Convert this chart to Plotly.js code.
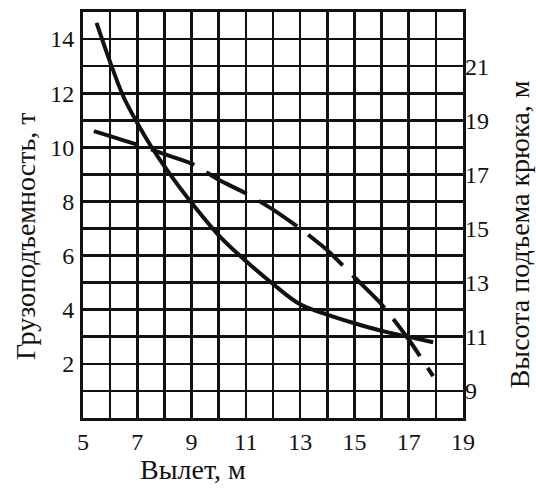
<!DOCTYPE html>
<html>
<head>
<meta charset="utf-8">
<script src="https://cdn.plot.ly/plotly-3.0.1.min.js"></script>
<style>
html,body{margin:0;padding:0;background:#fff;}
#chart{width:536px;height:489px;}
#chart svg text{font-family:'Liberation Serif','DejaVu Serif',serif !important;}
</style>
</head>
<body>
<div id="chart"></div>
<script>
// Вылет, м — load capacity (left axis, т)
const loadX = [5.5, 6, 6.5, 7, 7.5, 8, 9, 10, 11, 12, 13, 14, 15, 16, 17, 17.9];
const loadY = [14.6, 13.15, 11.85, 10.9, 10.05, 9.3, 7.95, 6.75, 5.8, 4.95, 4.2, 3.82, 3.5, 3.22, 3.0, 2.8];
// hook height (right axis, м)
const hookX = [5.4, 7, 8, 9, 10, 11, 12, 13, 14, 15, 16, 17, 17.9];
const hookY = [18.6, 18.1, 17.75, 17.4, 16.8, 16.3, 15.7, 15.0, 14.2, 13.2, 12.2, 10.9, 9.55];

const xTickVals = [5,6,7,8,9,10,11,12,13,14,15,16,17,18,19];
const xTickText = ['5','','7','','9','','11','','13','','15','','17','','19'];
const yTickVals = [1,2,3,4,5,6,7,8,9,10,11,12,13,14];
const yTickText = ['','2','','4','','6','','8','','10','','12','','14'];
const y2TickVals = [9,10,11,12,13,14,15,16,17,18,19,20,21,22];
const y2TickText = ['9','','11','','13','','15','','17','','19','','21',''];

const xTitle = 'Вылет, м';
const yTitle = 'Грузоподъемность, т';
const y2Title = 'Высота подъема крюка, м';

const fam = 'Liberation Serif';
const ink = '#111';

function draw() {
  const traces = [
    {x: loadX, y: loadY, type: 'scatter', mode: 'lines', yaxis: 'y',
     line: {color: ink, width: 4, shape: 'spline', smoothing: 1}, showlegend: false, hoverinfo: 'skip'},
    {x: hookX, y: hookY, type: 'scatter', mode: 'lines', yaxis: 'y2',
     line: {color: ink, width: 4, dash: '46px,14px', shape: 'spline', smoothing: 0.6}, showlegend: false, hoverinfo: 'skip'}
  ];
  const layout = {
    width: 536, height: 489,
    margin: {l: 83, r: 73, t: 12, b: 71},
    font: {family: fam, size: 24, color: ink},
    showlegend: false,
    xaxis: {
      range: [5, 19], tickmode: 'array', tickvals: xTickVals, ticktext: xTickText,
      showgrid: true, gridcolor: ink, gridwidth: 2.6, zeroline: false,
      showline: true, mirror: true, linecolor: ink, linewidth: 3,
      ticks: '', ticklabelstandoff: 0
    },
    yaxis: {
      range: [0, 15], tickmode: 'array', tickvals: yTickVals, ticktext: yTickText,
      showgrid: true, gridcolor: ink, gridwidth: 2.6, zeroline: false,
      showline: true, mirror: true, linecolor: ink, linewidth: 3,
      ticks: '', ticklabelstandoff: 1
    },
    yaxis2: {
      range: [8, 23], overlaying: 'y', side: 'right', tickmode: 'array', tickvals: y2TickVals, ticktext: y2TickText,
      showgrid: false, zeroline: false, showline: false,
      ticks: '', ticklabelstandoff: 1
    },
    annotations: [
      {text: xTitle, xref: 'paper', yref: 'paper', x: 0.29, y: -0.128, xanchor: 'center', yanchor: 'middle',
       showarrow: false, font: {family: fam, size: 28, color: ink}},
      {text: yTitle, xref: 'paper', yref: 'paper', x: -0.15, y: 0.446, xanchor: 'center', yanchor: 'middle',
       textangle: -90, showarrow: false, font: {family: fam, size: 28, color: ink}},
      {text: y2Title, xref: 'paper', yref: 'paper', x: 1.148, y: 0.453, xanchor: 'center', yanchor: 'middle',
       textangle: -90, showarrow: false, font: {family: fam, size: 28, color: ink}}
    ]
  };
  Plotly.newPlot('chart', traces, layout, {displayModeBar: false, staticPlot: true});
}

if (document.fonts && document.fonts.load) {
  Promise.all([document.fonts.load('24px "Liberation Serif"', 'Вылет 0123456789'),
               document.fonts.load('28px "Liberation Serif"', 'Грузоподъемность')])
    .then(draw, draw);
} else {
  draw();
}
</script>
</body>
</html>
